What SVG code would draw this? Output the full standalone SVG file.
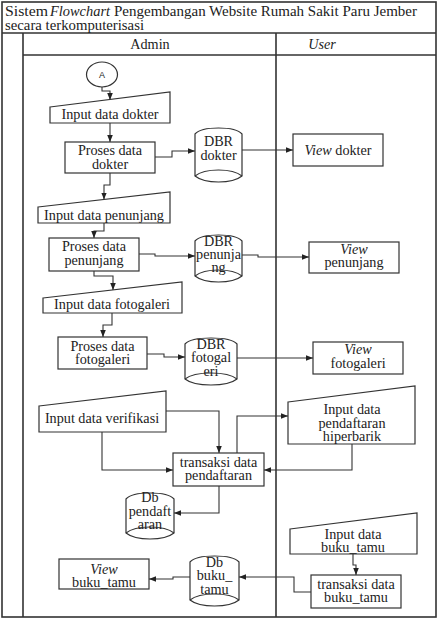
<svg xmlns="http://www.w3.org/2000/svg" width="441" height="621" viewBox="0 0 441 621">
<style>
  .frame{fill:none;stroke:#333;stroke-width:1.6}
  .sh{fill:#fff;stroke:#333;stroke-width:1.2}
  .ln{fill:none;stroke:#333;stroke-width:1.1}
  text{font-family:"Liberation Serif","Times New Roman",serif;font-size:14.2px;fill:#222}
  .c{text-anchor:middle}
  .i{font-style:italic}
</style>
<defs>
  <marker id="ah" viewBox="0 0 10 10" refX="10" refY="5" markerWidth="7" markerHeight="7" orient="auto" markerUnits="userSpaceOnUse">
    <path d="M0,1 L10,5 L0,9 Z" fill="#222"/>
  </marker>
</defs>
<rect x="0" y="0" width="441" height="621" fill="#fff"/>
<g id="frame">
  <rect class="frame" x="2" y="2" width="434" height="615"/>
  <line class="frame" x1="2" y1="33" x2="436" y2="33"/>
  <line class="frame" x1="23" y1="55" x2="436" y2="55"/>
  <line class="frame" x1="23" y1="33" x2="23" y2="617"/>
  <line class="frame" x1="276" y1="33" x2="276" y2="617" stroke-width="1.2"/>
  <text x="5" y="16" style="font-size:15.5px" textLength="43" lengthAdjust="spacingAndGlyphs">Sistem</text>
  <text class="i" x="50" y="16" style="font-size:15.5px" textLength="60" lengthAdjust="spacingAndGlyphs">Flowchart</text>
  <text x="114" y="16" style="font-size:15.5px" textLength="303" lengthAdjust="spacingAndGlyphs">Pengembangan Website Rumah Sakit Paru Jember</text>
  <text x="5" y="29.5" style="font-size:15.5px" textLength="139" lengthAdjust="spacingAndGlyphs">secara terkomputerisasi</text>
  <text class="c" x="150" y="49">Admin</text>
  <text class="c i" x="322" y="49">User</text>
</g>
<g id="connectors">
  <path class="ln" d="M102,87 V91 H110 V100" marker-end="url(#ah)"/>
  <path class="ln" d="M110,123 V142" marker-end="url(#ah)"/>
  <path class="ln" d="M155,157 H172 V151 H195" marker-end="url(#ah)"/>
  <path class="ln" d="M242,150 H293" marker-end="url(#ah)"/>
  <path class="ln" d="M110,173 V185 H104 V199.5" marker-end="url(#ah)"/>
  <path class="ln" d="M104,223 V231 H94 V238" marker-end="url(#ah)"/>
  <path class="ln" d="M139,254 H155 V256 H195" marker-end="url(#ah)"/>
  <path class="ln" d="M242,255 H258 V257 H309" marker-end="url(#ah)"/>
  <path class="ln" d="M94,271 V276 H113 V290" marker-end="url(#ah)"/>
  <path class="ln" d="M112,313 V325 H103 V337" marker-end="url(#ah)"/>
  <path class="ln" d="M147,354 H164 V357 H185" marker-end="url(#ah)"/>
  <path class="ln" d="M237,358 H313" marker-end="url(#ah)"/>
  <path class="ln" d="M166,411 H219 V453" marker-end="url(#ah)"/>
  <path class="ln" d="M102,432 V470 H173" marker-end="url(#ah)"/>
  <path class="ln" d="M237,453 V416 H288" marker-end="url(#ah)"/>
  <path class="ln" d="M352,444 V470 H264" marker-end="url(#ah)"/>
  <path class="ln" d="M219,486 V513 H174" marker-end="url(#ah)"/>
  <path class="ln" d="M353,554 V565 H356 V575" marker-end="url(#ah)"/>
  <path class="ln" d="M311,592 H294 V577 H239" marker-end="url(#ah)"/>
  <path class="ln" d="M190,577 H173 V579 H149" marker-end="url(#ah)"/>
</g>
<g id="start-A">
  <ellipse class="sh" cx="102" cy="74.5" rx="15.5" ry="12.5"/>
  <text x="102" y="78" text-anchor="middle" style="font-family:'Liberation Sans',Arial,sans-serif;font-size:9px">A</text>
</g>
<g id="input-dokter">
  <polygon class="sh" points="50,107 170,92 170,123 50,123"/>
  <text class="c" x="110" y="119">Input data dokter</text>
</g>
<g id="proses-dokter">
  <rect class="sh" x="65" y="142" width="90" height="31"/>
  <text class="c" x="110" y="155">Proses data</text>
  <text class="c" x="110" y="168.5">dokter</text>
</g>
<g id="dbr-dokter">
  <path class="sh" d="M195,134 C202,126 235,126 242,134 V176 C232,184 205,184 195,176 Z"/>
  <path class="ln" d="M195,176 C205,168 232,168 242,176"/>
  <text class="c" x="218.5" y="146">DBR</text>
  <text class="c" x="218.5" y="160">dokter</text>
</g>
<g id="view-dokter">
  <rect class="sh" x="293" y="134" width="90" height="32"/>
  <text class="c" x="338" y="155"><tspan class="i">View</tspan> dokter</text>
</g>
<g id="input-penunjang">
  <polygon class="sh" points="38,207 170,192 170,223 38,223"/>
  <text class="c" x="104" y="219.5">Input data penunjang</text>
</g>
<g id="proses-penunjang">
  <rect class="sh" x="49" y="238" width="90" height="33"/>
  <text class="c" x="94" y="251">Proses data</text>
  <text class="c" x="94" y="265">penunjang</text>
</g>
<g id="dbr-penunjang">
  <path class="sh" d="M195,241 C202,233 235,233 242,241 V276 C232,284 205,284 195,276 Z"/>
  <path class="ln" d="M195,276 C205,268 232,268 242,276"/>
  <text class="c" x="218.5" y="246">DBR</text>
  <text class="c" x="218.5" y="259">penunja</text>
  <text class="c" x="218.5" y="272">ng</text>
</g>
<g id="view-penunjang">
  <rect class="sh" x="309" y="242" width="90" height="31"/>
  <text class="c i" x="354" y="254">View</text>
  <text class="c" x="354" y="267">penunjang</text>
</g>
<g id="input-fotogaleri">
  <polygon class="sh" points="43,298 182,282 182,313 43,313"/>
  <text class="c" x="112" y="309">Input data fotogaleri</text>
</g>
<g id="proses-fotogaleri">
  <rect class="sh" x="58" y="337" width="89" height="32"/>
  <text class="c" x="102.5" y="351">Proses data</text>
  <text class="c" x="102.5" y="364">fotogaleri</text>
</g>
<g id="dbr-fotogaleri">
  <path class="sh" d="M185,344 C192,336 230,336 237,344 V379 C227,387 195,387 185,379 Z"/>
  <path class="ln" d="M185,379 C195,371 227,371 237,379"/>
  <text class="c" x="211" y="349">DBR</text>
  <text class="c" x="211" y="362">fotogal</text>
  <text class="c" x="211" y="376">eri</text>
</g>
<g id="view-fotogaleri">
  <rect class="sh" x="313" y="342" width="90" height="32"/>
  <text class="c i" x="358" y="354">View</text>
  <text class="c" x="358" y="368">fotogaleri</text>
</g>
<g id="input-verifikasi">
  <polygon class="sh" points="39,406 166,391 166,432 39,432"/>
  <text class="c" x="102" y="423">Input data verifikasi</text>
</g>
<g id="transaksi-pendaftaran">
  <rect class="sh" x="173" y="453" width="91" height="33"/>
  <text class="c" x="218.5" y="467">transaksi data</text>
  <text class="c" x="218.5" y="480">pendaftaran</text>
</g>
<g id="input-pendaftaran">
  <polygon class="sh" points="288,402 415,386 415,444 288,444"/>
  <text class="c" x="352" y="414">Input data</text>
  <text class="c" x="352" y="428">pendaftaran</text>
  <text class="c" x="352" y="441">hiperbarik</text>
</g>
<g id="db-pendaftaran">
  <path class="sh" d="M126,499 C133,491 167,491 174,499 V533 C164,541 136,541 126,533 Z"/>
  <path class="ln" d="M126,533 C136,525 164,525 174,533"/>
  <text class="c" x="150" y="502">Db</text>
  <text class="c" x="150" y="516">pendaft</text>
  <text class="c" x="150" y="529">aran</text>
</g>
<g id="input-bukutamu">
  <polygon class="sh" points="290,529 417,513 417,554 290,554"/>
  <text class="c" x="353" y="539">Input data</text>
  <text class="c" x="353" y="552">buku_tamu</text>
</g>
<g id="transaksi-bukutamu">
  <rect class="sh" x="311" y="575" width="90" height="33"/>
  <text class="c" x="356" y="589">transaksi data</text>
  <text class="c" x="356" y="602">buku_tamu</text>
</g>
<g id="db-bukutamu">
  <path class="sh" d="M190,562 C197,554 232,554 239,562 V600 C229,608 200,608 190,600 Z"/>
  <path class="ln" d="M190,600 C200,592 229,592 239,600"/>
  <text class="c" x="214.5" y="567">Db</text>
  <text class="c" x="214.5" y="580">buku_</text>
  <text class="c" x="214.5" y="594">tamu</text>
</g>
<g id="view-bukutamu">
  <rect class="sh" x="59" y="559" width="90" height="30"/>
  <text class="c i" x="104" y="574">View</text>
  <text class="c" x="104" y="587">buku_tamu</text>
</g>
</svg>
